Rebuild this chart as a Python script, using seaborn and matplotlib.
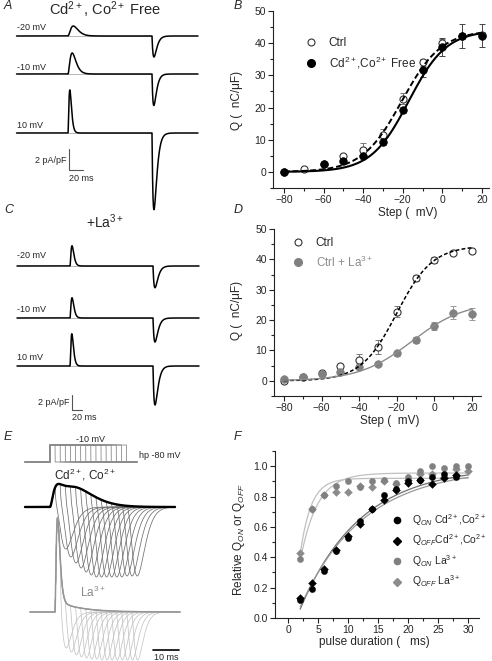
import numpy as np
import matplotlib
matplotlib.use("Agg")
import matplotlib.pyplot as plt
from matplotlib.lines import Line2D
from matplotlib.ticker import MultipleLocator, FormatStrFormatter
import seaborn as sns

sns.set_theme(style="ticks")
plt.rcParams["font.family"] = ["Liberation Sans", "DejaVu Sans"]
plt.rcParams["mathtext.fontset"] = "custom"
plt.rcParams["mathtext.rm"] = "Liberation Sans"
plt.rcParams["mathtext.it"] = "Liberation Sans:italic"
plt.rcParams["mathtext.bf"] = "Liberation Sans:bold"

W, H = 492, 661

# ---- B / D : charge vs step potential
steps = [-80, -70, -60, -50, -40, -30, -20, -10, 0, 10, 20]
q_ctrl_b = [0.0, 1.0, 2.4, 4.8, 6.9, 11.4, 22.8, 34.0, 40.2, 42.2, 42.6]
q_ctrl_b_err = [0.3, 0.6, 0.6, 0.9, 2.0, 1.8, 1.6, 1.0, 1.2, 0.9, 0.9]
steps_cd = [-80, -60, -50, -40, -30, -20, -10, 0, 10, 20]
q_cd = [0.0, 2.6, 3.5, 4.9, 9.3, 19.3, 31.8, 38.8, 42.2, 42.3]
q_cd_err = [0.3, 0.5, 0.6, 0.7, 0.9, 1.0, 2.2, 2.8, 3.7, 3.6]
q_ctrl_d = [-0.2, 1.2, 2.6, 4.8, 7.0, 11.1, 22.8, 33.8, 39.9, 42.0, 42.8]
q_ctrl_d_err = [0.4, 0.5, 0.6, 0.8, 1.8, 2.4, 1.8, 1.0, 1.0, 0.6, 0.6]
q_la = [0.7, 1.1, 2.2, 3.0, 4.6, 5.5, 9.0, 13.4, 18.1, 22.5, 22.0]
q_la_err = [0.4, 0.4, 0.6, 0.6, 0.8, 0.6, 0.8, 0.9, 1.2, 2.0, 2.0]

# Boltzmann fit parameters: Qmax, V1/2, k
fit_ctrl_b = [44.0, -20.5, 10.0]
fit_cd_b = [44.0, -17.0, 9.5]
fit_ctrl_d = [44.5, -20.0, 9.5]
fit_la_d = [26.0, -12.0, 14.0]

# ---- F : relative charge vs pulse duration
durations = [2, 4, 6, 8, 10, 12, 14, 16, 18, 20, 22, 24, 26, 28, 30]
qon_cd = [0.12, 0.19, 0.31, 0.44, 0.53, 0.64, 0.72, 0.81, 0.85, 0.90, 0.91, 0.93, 0.95, 0.93, np.nan]
qoff_cd = [0.13, 0.23, 0.32, 0.45, 0.54, 0.62, 0.72, 0.78, 0.84, 0.89, 0.91, 0.88, 0.92, 0.94, np.nan]
qon_la = [0.39, 0.72, 0.81, 0.87, 0.90, 0.86, 0.90, 0.91, 0.89, 0.93, 0.97, 1.00, 0.99, 1.00, 1.00]
qoff_la = [0.43, 0.72, 0.81, 0.83, 0.83, 0.87, 0.86, 0.90, 0.88, 0.91, 0.95, 0.95, 0.93, 0.98, 0.97]
# exponential fits: A, tau, t0
fit_on_cd = [1.00, 10.0, 1.4]
fit_off_cd = [0.99, 10.5, 1.2]
fit_on_la = [0.92, 1.8, 0.9]
fit_off_la = [0.955, 2.8, 0.6]

# ---- A / C : gating current traces (pA/pF, ms)
trace_labels = ["-20 mV", "-10 mV", "10 mV"]
a_pulse = 120
a_on_amp = [0.95, 2.0, 4.1]
a_on_tau = [3.8, 3.0, 1.3]
a_off_amp = [2.0, 3.0, 7.3]
a_off_tau = [2.8, 2.6, 2.8]
c_pulse = 166
c_on_amp = [2.7, 2.7, 4.3]
c_on_tau = [2.0, 2.0, 1.8]
c_off_amp = [2.9, 3.2, 5.2]
c_off_tau = [4.0, 4.0, 4.0]

# ---- E : pulse-duration series
cd_off_depth = [4.2, 5.0, 5.6, 6.1, 6.5, 6.8, 7.0, 7.0, 7.0, 7.0, 7.0, 7.0, 6.9, 6.9, 6.9]
la_off_depth = [3.6, 4.0, 4.3, 4.5, 4.6, 4.7, 4.7, 4.8, 4.8, 4.8, 4.8, 4.8, 4.8, 4.8, 4.8]
cd_on = [1.9, 1.3, 1.9, 3.3]   # fast amp, fast tau, slow amp, slow tau
la_on = [8.6, 0.5, 1.2, 9.0]   # spike amp, spike tau, tail amp, tail tau


def g(t, n, tau):
    x = np.clip(np.asarray(t, dtype=float) / tau, 0, None)
    return (x / n) ** n * np.exp(n - x)


def boltz(v, qmax, vh, k):
    return qmax / (1 + np.exp((vh - v) / k))


def expfit(t, a, tau, t0):
    return a * (1 - np.exp(-(t - t0) / tau))


fig = plt.figure(figsize=(W / 100, H / 100), dpi=100)
fig.patch.set_facecolor("white")


def px_axes(x0, y0, x1, y1):
    return fig.add_axes([x0 / W, 1 - y1 / H, (x1 - x0) / W, (y1 - y0) / H])


def ftext(x, y, s, **kw):
    kw.setdefault("va", "center")
    fig.text(x / W, 1 - y / H, s, **kw)


def style(ax):
    sns.despine(ax=ax)
    for sp in ["left", "bottom"]:
        ax.spines[sp].set_linewidth(0.8)
        ax.spines[sp].set_color("#222222")
    ax.tick_params(which="both", direction="out", width=0.8, color="#222222",
                   labelsize=7.5, pad=1.5)
    ax.tick_params(which="major", length=3.5)
    ax.tick_params(which="minor", length=2)
    ax.set_facecolor("white")


# ================= panel A =================
axA = px_axes(0, 0, 240, 215)
axA.axis("off")
sa = 10.5
axA.set_xlim(-68 / 0.7, 172 / 0.7)
axA.set_ylim(-215 / sa, 0)
a_base = [-36 / sa, -74 / sa, -133 / sa]
a_lab_y = [-28 / sa, -68 / sa, -125 / sa]
t = np.linspace(-49 / 0.7 - 3.5, 130 / 0.7, 5000)
for i in range(3):
    y = (a_base[i] + a_on_amp[i] * g(t, 2, a_on_tau[i])
         - a_off_amp[i] * g(t - a_pulse, 1, a_off_tau[i]))
    axA.plot([0, a_pulse], [a_base[i], a_base[i]], color="#9a9a9a", lw=0.5)
    axA.plot(t, y, color="black", lw=1.1)
    axA.text(t[0], a_lab_y[i], trace_labels[i], fontsize=6.5, va="center")
sbx = 1 / 0.7
axA.plot([sbx, sbx, sbx + 20], [-149 / sa, -149 / sa - 2, -149 / sa - 2], color="#555555", lw=0.8)
axA.text(sbx - 4, -160 / sa, "2 pA/pF", fontsize=6.5, ha="right", va="center")
axA.text(sbx, -178 / sa, "20 ms", fontsize=6.5, ha="left", va="center")

# ================= panel C =================
axC = px_axes(0, 215, 240, 425)
axC.axis("off")
sc = 7.5
axC.set_xlim(-70 / 0.5, 170 / 0.5)
axC.set_ylim(-210 / sc, 0)
c_base = [-51 / sc, -103 / sc, -151 / sc]
c_lab_y = [-41 / sc, -95 / sc, -143 / sc]
t = np.linspace(-53 / 0.5, 129 / 0.5, 5000)
for i in range(3):
    y = (c_base[i] + c_on_amp[i] * g(t, 2, c_on_tau[i])
         - c_off_amp[i] * g(t - c_pulse, 1, c_off_tau[i]))
    axC.plot([0, c_pulse], [c_base[i], c_base[i]], color="#9a9a9a", lw=0.5)
    axC.plot(t, y, color="black", lw=1.1)
    axC.text(t[0], c_lab_y[i], trace_labels[i], fontsize=6.5, va="center")
sbx = 2 / 0.5
axC.plot([sbx, sbx, sbx + 20], [-180 / sc, -180 / sc - 2, -180 / sc - 2], color="#555555", lw=0.8)
axC.text(sbx - 6, -188 / sc, "2 pA/pF", fontsize=6.5, ha="right", va="center")
axC.text(sbx, -203 / sc, "20 ms", fontsize=6.5, ha="left", va="center")

# ================= panel E =================
axE = px_axes(0, 425, 240, 661)
axE.axis("off")
se = 2.55
axE.set_xlim(-50 / se, 190 / se)
axE.set_ylim(-23.6, 0)
hold_y, step_y = -3.7, -2.0
cd_base, la_base = -8.2, -18.7
la_shift = 5 / se
tp = np.linspace(-25 / se, 87 / se, 3000)
for d in durations:
    v = np.where((tp >= 0) & (tp < d), step_y, hold_y)
    axE.plot(tp, v, color="#8c8c8c", lw=0.6)

te = np.linspace(-25 / se, 125 / se, 4000)
on_cd = cd_on[0] * g(te, 2, cd_on[1]) + cd_on[2] * g(te, 3, cd_on[3])
on_la = la_on[0] * g(te, 2, la_on[1]) + la_on[2] * (np.exp(-np.clip(te, 0, None) / la_on[3]) - np.exp(-np.clip(te, 0, None) / 0.6))
for k, d in enumerate(durations):
    end_cd = np.interp(d, te, on_cd)
    y = np.where(te < d, on_cd, end_cd * np.exp(-np.clip(te - d, 0, None) / 0.3))
    y = y - cd_off_depth[k] * g(te - d, 3, 1.4)
    axE.plot(te, cd_base + y, color="#6e6e6e", lw=0.55)
for k, d in enumerate(durations):
    end_la = np.interp(d, te, on_la)
    y = np.where(te < d, on_la, end_la * np.exp(-np.clip(te - d, 0, None) / 0.3))
    y = y - la_off_depth[k] * g(te - d, 2, 1.2)
    axE.plot(te + la_shift, la_base + y, color="#c4c4c4", lw=0.55)
axE.plot(te, cd_base + on_cd, color="black", lw=1.7)
axE.plot(te + la_shift, la_base + on_la, color="#959595", lw=1.1)
x10 = 103 / se
axE.plot([x10, x10 + 10], [-22.5, -22.5], color="black", lw=1.2)
axE.text(x10 + 5, -23.2, "10 ms", fontsize=6.5, ha="center", va="center")
axE.text(40 / se, -1.5, "-10 mV", fontsize=6.5, ha="center", va="center")
axE.text(110 / se, -3.0, "hp -80 mV", fontsize=6.5, ha="center", va="center")
axE.text(35 / se, -5.0, r"Cd$^{2+}$, Co$^{2+}$", fontsize=8.5, ha="center", va="center")
axE.text(43 / se, -16.7, r"La$^{3+}$", fontsize=8.5, ha="center", va="center", color="#8a8a8a")

# ================= panel B =================
axB = px_axes(273, 11, 489, 188)
vv = np.linspace(-80, 20, 300)
axB.errorbar(steps, q_ctrl_b, yerr=q_ctrl_b_err, fmt="none", ecolor="#777777",
             elinewidth=0.7, capsize=2, capthick=0.7)
axB.errorbar(steps_cd, q_cd, yerr=q_cd_err, fmt="none", ecolor="#444444",
             elinewidth=0.7, capsize=2, capthick=0.7)
sns.scatterplot(x=steps, y=q_ctrl_b, ax=axB, marker="o", s=26, color="white",
                edgecolor="#333333", linewidth=0.8, zorder=3)
sns.lineplot(x=vv, y=boltz(vv, *fit_ctrl_b), ax=axB, color="black", lw=1.4,
             linestyle=(0, (3, 1.5)), zorder=4)
sns.lineplot(x=vv, y=boltz(vv, *fit_cd_b), ax=axB, color="black", lw=1.5, zorder=4)
sns.scatterplot(x=steps_cd, y=q_cd, ax=axB, marker="o", s=30, color="black",
                edgecolor="black", linewidth=0.5, zorder=5)
axB.set_xlim(-85.5, 23.5)
axB.set_ylim(-5, 50)
axB.xaxis.set_major_locator(MultipleLocator(20))
axB.xaxis.set_minor_locator(MultipleLocator(10))
axB.yaxis.set_major_locator(MultipleLocator(10))
axB.yaxis.set_minor_locator(MultipleLocator(5))
style(axB)
axB.set_xlabel("Step (  mV)", fontsize=8.5)
axB.set_ylabel("Q (  nC/\u03bcF)", fontsize=8.5)
axB.xaxis.set_label_coords((408 - 273) / 216, (188 - 207) / 177)
axB.yaxis.set_label_coords((243 - 273) / 216, (188 - 100) / 177)
hB = [Line2D([], [], marker="o", ls="none", mfc="white", mec="#333333", ms=5, mew=0.8),
      Line2D([], [], marker="o", ls="none", mfc="black", mec="black", ms=5.5)]
axB.legend(hB, ["Ctrl", r"Cd$^{2+}$,Co$^{2+}$ Free"], loc="upper left",
           bbox_to_anchor=(305 / W, 1 - 37 / H), bbox_transform=fig.transFigure,
           frameon=False, fontsize=8.5, handlelength=1.0, handletextpad=1.0,
           borderpad=0, borderaxespad=0, labelspacing=0.45)

# ================= panel D =================
axD = px_axes(274, 229, 481, 396)
axD.errorbar(steps, q_ctrl_d, yerr=q_ctrl_d_err, fmt="none", ecolor="#777777",
             elinewidth=0.7, capsize=2, capthick=0.7)
axD.errorbar(steps, q_la, yerr=q_la_err, fmt="none", ecolor="#999999",
             elinewidth=0.7, capsize=2, capthick=0.7)
sns.scatterplot(x=steps, y=q_ctrl_d, ax=axD, marker="o", s=26, color="white",
                edgecolor="#333333", linewidth=0.8, zorder=3)
sns.scatterplot(x=steps, y=q_la, ax=axD, marker="o", s=30, color="#808080",
                edgecolor="#808080", linewidth=0.5, zorder=3)
sns.lineplot(x=vv, y=boltz(vv, *fit_ctrl_d), ax=axD, color="black", lw=1.1,
             linestyle=(0, (2.5, 1.5)), zorder=4)
sns.lineplot(x=vv, y=boltz(vv, *fit_la_d), ax=axD, color="#8c8c8c", lw=1.0, zorder=4)
axD.set_xlim(-85.3, 24.8)
axD.set_ylim(-5, 50)
axD.xaxis.set_major_locator(MultipleLocator(20))
axD.xaxis.set_minor_locator(MultipleLocator(10))
axD.yaxis.set_major_locator(MultipleLocator(10))
axD.yaxis.set_minor_locator(MultipleLocator(5))
style(axD)
axD.set_xlabel("Step (  mV)", fontsize=8.5)
axD.set_ylabel("Q (  nC/\u03bcF)", fontsize=8.5)
axD.xaxis.set_label_coords((390 - 274) / 207, (396 - 415) / 167)
axD.yaxis.set_label_coords((243 - 274) / 207, (396 - 310) / 167)
hD = [Line2D([], [], marker="o", ls="none", mfc="white", mec="#333333", ms=5, mew=0.8),
      Line2D([], [], marker="o", ls="none", mfc="#808080", mec="#808080", ms=5.5)]
legD = axD.legend(hD, ["Ctrl", r"Ctrl + La$^{3+}$"], loc="upper left",
                  bbox_to_anchor=(292 / W, 1 - 237 / H), bbox_transform=fig.transFigure,
                  frameon=False, fontsize=8.5, handlelength=1.0, handletextpad=1.0,
                  borderpad=0, borderaxespad=0, labelspacing=0.45)
legD.get_texts()[1].set_color("#8c8c8c")

# ================= panel F =================
axF = px_axes(275, 451, 479, 618)
tt = np.linspace(2, 30, 300)
sns.lineplot(x=tt, y=expfit(tt, *fit_on_la), ax=axF, color="#c0c0c0", lw=0.9)
sns.lineplot(x=tt, y=expfit(tt, *fit_off_la), ax=axF, color="#c0c0c0", lw=0.9)
sns.lineplot(x=tt, y=expfit(tt, *fit_on_cd), ax=axF, color="#707070", lw=0.9)
sns.lineplot(x=tt, y=expfit(tt, *fit_off_cd), ax=axF, color="#9a9a9a", lw=0.9)
sns.scatterplot(x=durations, y=qoff_la, ax=axF, marker="D", s=16, color="#8c8c8c",
                edgecolor="#8c8c8c", linewidth=0.3, zorder=3)
sns.scatterplot(x=durations, y=qon_la, ax=axF, marker="o", s=20, color="#808080",
                edgecolor="#808080", linewidth=0.3, zorder=3)
sns.scatterplot(x=durations, y=qoff_cd, ax=axF, marker="D", s=16, color="black",
                edgecolor="black", linewidth=0.3, zorder=4)
sns.scatterplot(x=durations, y=qon_cd, ax=axF, marker="o", s=20, color="black",
                edgecolor="black", linewidth=0.3, zorder=4)
axF.set_xlim(-2.2, 31.8)
axF.set_ylim(0, 1.1)
axF.xaxis.set_major_locator(MultipleLocator(5))
axF.xaxis.set_minor_locator(MultipleLocator(2.5))
axF.yaxis.set_major_locator(MultipleLocator(0.2))
axF.yaxis.set_minor_locator(MultipleLocator(0.1))
axF.yaxis.set_major_formatter(FormatStrFormatter("%.1f"))
style(axF)
axF.set_xlabel("pulse duration (   ms)", fontsize=8.5)
axF.set_ylabel(r"Relative Q$_{ON}$ or Q$_{OFF}$", fontsize=8.5)
axF.xaxis.set_label_coords((374 - 275) / 204, (618 - 636) / 167)
axF.yaxis.set_label_coords((247 - 275) / 204, (618 - 540) / 167)
hF = [Line2D([], [], marker="o", ls="none", mfc="black", mec="black", ms=4.5),
      Line2D([], [], marker="D", ls="none", mfc="black", mec="black", ms=4),
      Line2D([], [], marker="o", ls="none", mfc="#808080", mec="#808080", ms=4.5),
      Line2D([], [], marker="D", ls="none", mfc="#8c8c8c", mec="#8c8c8c", ms=4)]
axF.legend(hF, [r"Q$_{ON}$ Cd$^{2+}$,Co$^{2+}$", r"Q$_{OFF}$Cd$^{2+}$,Co$^{2+}$",
                r"Q$_{ON}$ La$^{3+}$", r"Q$_{OFF}$ La$^{3+}$"],
           loc="upper left", bbox_to_anchor=(392 / W, 1 - 512 / H),
           bbox_transform=fig.transFigure, frameon=False, fontsize=7.5,
           handlelength=1.0, handletextpad=0.9, borderpad=0, borderaxespad=0,
           labelspacing=0.45)

# ================= titles and panel letters =================
ftext(105, 10, r"Cd$^{2+}$, Co$^{2+}$ Free", fontsize=10.5, ha="center")
ftext(105, 222, r"+La$^{3+}$", fontsize=10, ha="center")
for lab, x, y in [("A", 4, 6), ("B", 234, 6), ("C", 4, 210), ("D", 234, 210),
                  ("E", 4, 437), ("F", 234, 437)]:
    ftext(x, y, lab, fontsize=9, style="italic", ha="left")

fig.savefig("out.png", dpi=100, facecolor="white")
